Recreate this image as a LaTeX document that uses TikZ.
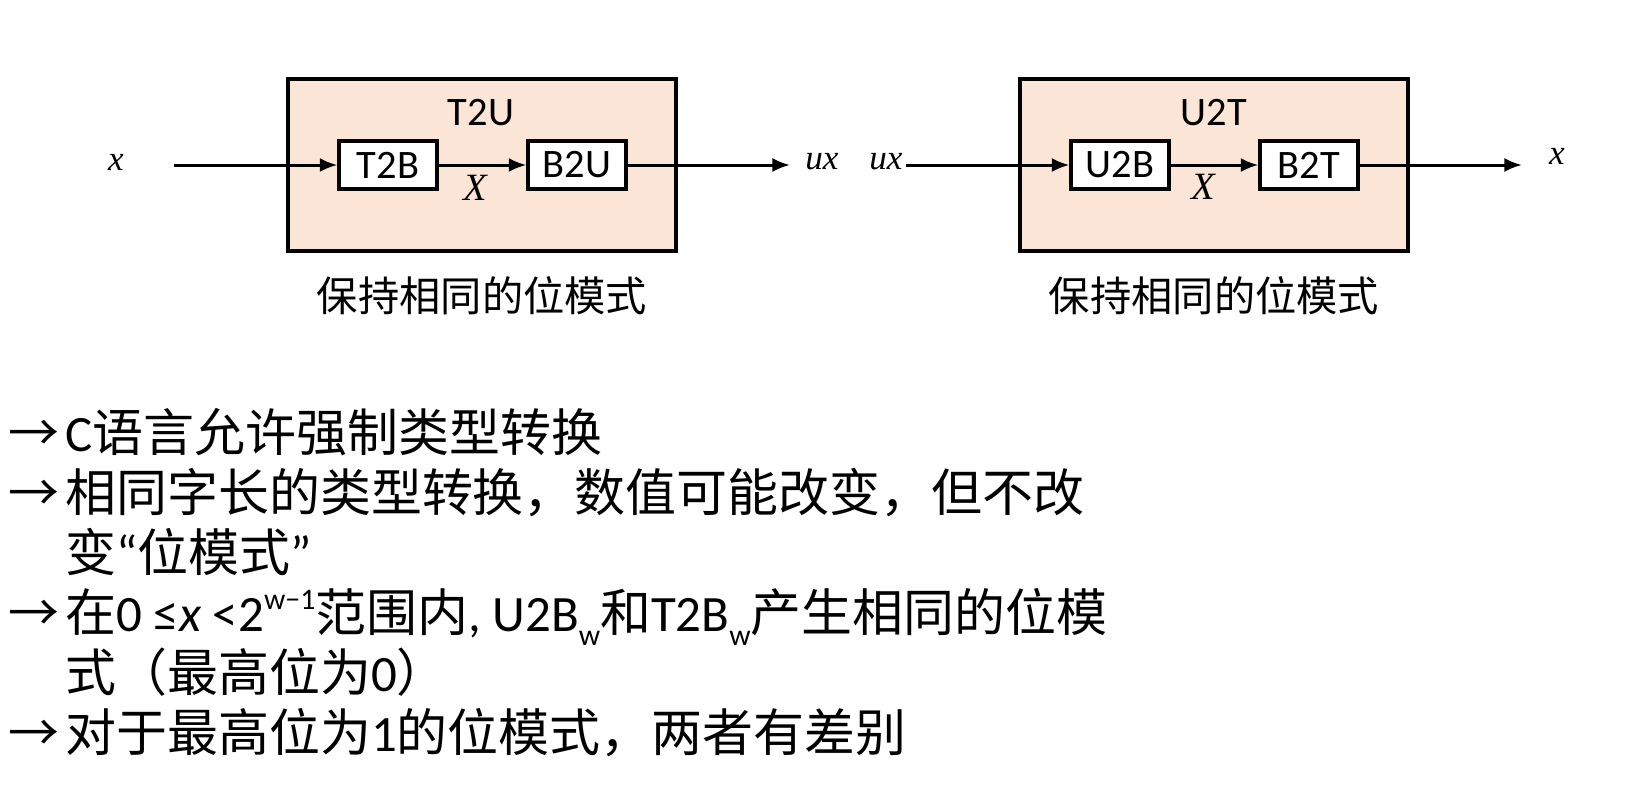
\documentclass[tikz,border=0pt]{standalone}
\usepackage{fontspec}
\setmainfont{Carlito}
\newfontfamily\cjk{Noto Sans CJK SC}
\newfontfamily\tms{Liberation Serif}
\usetikzlibrary{arrows.meta}
\definecolor{peach}{RGB}{251,229,214}
\newcommand\supw[1]{\raisebox{0.42em}{\fontsize{17}{17}\selectfont #1}}
\newcommand\subw[1]{\raisebox{-0.28em}{\fontsize{17}{17}\selectfont #1}}
\newcommand\lat[1]{{\rmfamily #1}}
\begin{document}
\begin{tikzpicture}[x=0.02cm,y=-0.02cm,
    outer/.style={draw, line width=2pt, fill=peach, minimum width=7.76cm, minimum height=3.44cm},
    blk/.style={draw, line width=1.8pt, fill=white, minimum width=1.96cm, minimum height=0.96cm, inner sep=0pt, font=\fontsize{23}{23}\selectfont},
    ttl/.style={font=\fontsize{23}{23}\selectfont},
    var/.style={font=\tms\itshape\fontsize{20}{20}\selectfont},
    arr/.style={line width=1.7pt, -{Latex[length=10pt,width=8pt]}},
    capt/.style={font=\cjk\fontsize{23.5}{23.5}\selectfont},
    item/.style={anchor=base west, inner sep=0pt, font=\cjk\fontsize{29}{34}\selectfont}]
        \useasboundingbox (0,0) rectangle (1630,792);

        % T2U
        \node[outer] (t2u) at (482,165) {};
        \node[ttl] (t2ulbl) at (481,113) {T2U};
        \node[blk] (t2b) at (388,165) {T2B};
        \node[blk] (b2u) at (577,165) {B2U};
        \node[var] (xin) at (116,162) {x};
        \node[var] (uxout) at (822,162) {ux};
        \node[var, font=\tms\itshape\fontsize{22}{22}\selectfont] (xmid1) at (475,188) {X};
        \coordinate (in1) at (174,165);
        \coordinate (out1) at (790,165);
        \draw[arr] (in1) -- (t2b.west);
        \draw[arr] (t2b.east) -- (b2u.west);
        \draw[arr] (b2u.east) -- (out1);
        \node[capt] (cap1) at (482,296) {保持相同的位模式};

        % U2T
        \node[outer] (u2t) at (1214,165) {};
        \node[ttl] (u2tlbl) at (1214,113) {U2T};
        \node[blk] (u2b) at (1120,165) {U2B};
        \node[blk] (b2t) at (1309,165) {B2T};
        \node[var] (uxin) at (886,162) {ux};
        \node[var] (xout) at (1557,156) {x};
        \node[var, font=\tms\itshape\fontsize{22}{22}\selectfont] (xmid2) at (1203,187) {X};
        \coordinate (in2) at (906,165);
        \coordinate (out2) at (1522,165);
        \draw[arr] (in2) -- (u2b.west);
        \draw[arr] (u2b.east) -- (b2t.west);
        \draw[arr] (b2t.east) -- (out2);
        \node[capt] (cap2) at (1214,296) {保持相同的位模式};

        % bullets
        \foreach \y/\nm in {451/a1, 511/a2, 631/a3, 751/a4}
            \node[item] (\nm) at (8,\y) {→};
        \node[item] (l1) at (65,451) {\lat{C}语言允许强制类型转换};
        \node[item] (l2) at (65,511) {相同字长的类型转换，数值可能改变，但不改};
        \node[item] (l2b) at (65,571) {变\lat{“}位模式\lat{”}};
        \node[item] (l3) at (65,631) {在\lat{0 ≤\textit{x} <2\supw{w−1}}范围内\lat{, U2B\subw{w}}和\lat{T2B\subw{w}}产生相同的位模};
        \node[item] (l3b) at (65,691) {式（最高位为\lat{0}）};
        \node[item] (l4) at (65,751) {对于最高位为\lat{1}的位模式，两者有差别};

    \end{tikzpicture}
\end{document}
